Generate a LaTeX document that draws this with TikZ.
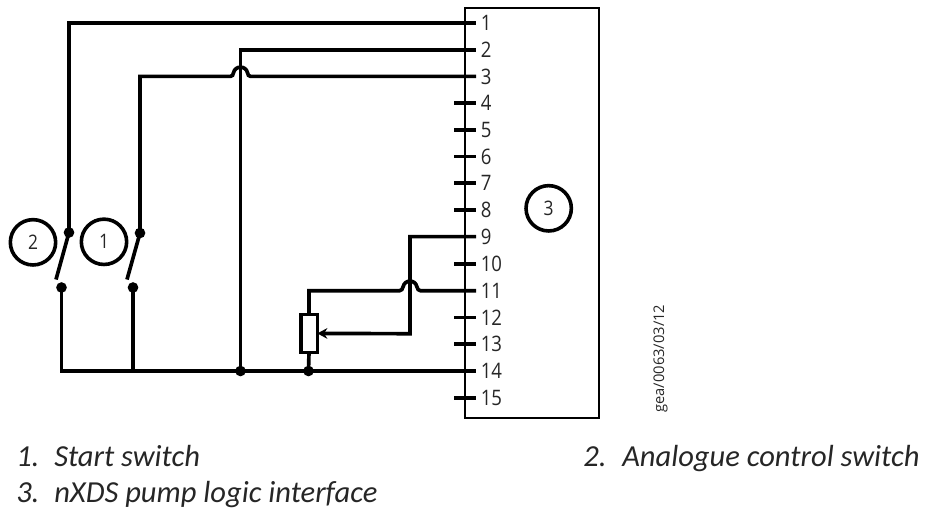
\documentclass[tikz,border=0pt]{standalone}
\usepackage{fontspec}
\setmainfont{Carlito}
\newfontfamily\pinfont[FakeStretch=0.87]{Open Sans}
\newfontfamily\reffont{Open Sans}
\usetikzlibrary{arrows.meta}
\tikzset{
  x=0.75pt,y=-0.75pt,
  wire/.style={line width=2.75pt,line cap=butt,line join=miter},
  frame/.style={line width=1.5pt},
  dotn/.style={circle,fill=black,inner sep=0pt,minimum size=8pt},
  bubble/.style={circle,draw,line width=2.7pt,minimum size=34pt,inner sep=0pt,font=\pinfont\fontsize{15}{16}\selectfont,text=black!85},
  pinlabel/.style={anchor=west,inner sep=0pt,font=\pinfont\fontsize{16}{18}\selectfont,text=black!85},
  caption/.style={anchor=base west,inner sep=0pt,font=\fontsize{22.9}{26}\selectfont\itshape,text=black!85},
  resistor/.style={draw,line width=2.75pt,fill=white,minimum width=12.5pt,minimum height=28.5pt,inner sep=0pt,outer sep=0pt},
}
\begin{document}
\begin{tikzpicture}
\useasboundingbox (0,0) rectangle (925,512);
% interface box
\node[draw,frame,minimum width=101pt,minimum height=308pt,inner sep=0pt,outer sep=0pt,anchor=north west] (box) at (464.5,7.5) {};
% pin ends and labels
\foreach \n/\y in {1/23,2/49.7,3/76.4,4/103.1,5/129.8,6/156.5,7/183.2,8/209.9,9/236.6,10/263.7,11/290.7,12/317.4,13/344.1,14/371,15/397.7}{
  \coordinate (p\n) at (476,\y);
  \coordinate (s\n) at (454,\y);
  \node[pinlabel] (l\n) at (480.5,\y) {\n};
}
\foreach \n in {4,5,6,7,8,10,12,13,15}{ \draw[wire] (s\n) -- (p\n); }
% switches
\node[dotn] (t2) at (69,232.5) {};
\node[dotn] (t1) at (140,233) {};
\node[dotn] (b2) at (61.5,287.5) {};
\node[dotn] (b1) at (133,287.5) {};
\coordinate (e2) at (56,279.5);
\coordinate (e1) at (127,279.5);
\draw[wire] (t2.center) -- (e2);
\draw[wire] (t1.center) -- (e1);
% wires
\draw[wire] (t2.center) |- (p1);
\draw[wire] (240.5,371) |- (p2);
\coordinate (j3a) at (230.5,76.4);
\coordinate (j3b) at (250.5,76.4);
\draw[wire] (t1.center) |- (j3a) .. controls (232.5,76.4) and (233,74.7) .. (233.5,72.7) .. controls (234.5,69) and (237,67.2) .. (240.5,67.2) .. controls (244,67.2) and (246.5,69) .. (247.5,72.7) .. controls (248,74.7) and (248.5,76.4) .. (j3b) -- (p3);
% bottom rail
\coordinate (rail) at (61.5,371);
\draw[wire,line cap=square] (b2.center) -- (rail) -- (p14);
\draw[wire] (b1.center) -- (133,371);
\node[dotn] (d1) at (240.5,371) {};
\node[dotn] (d2) at (308.5,371) {};
% potentiometer
\node[resistor] (r) at (309,333.4) {};
\draw[wire] (d2.center) -- (r.south);
\coordinate (j11a) at (399.5,290.7);
\coordinate (j11b) at (420.5,290.7);
\draw[wire] (r.north) |- (j11a) .. controls (401.5,290.7) and (402.5,289) .. (403,287) .. controls (404,283) and (406.5,281.2) .. (410,281.2) .. controls (413.5,281.2) and (416,283) .. (417,287) .. controls (417.5,289) and (418.5,290.7) .. (j11b) -- (p11);
\draw[wire,-{Stealth[length=7.5pt,width=8pt]}] (p9) -| (410,333.7) -- (r.east);
% bubbles
\node[bubble] (c2) at (33,242.3) {2};
\node[bubble] (c1) at (104,241.8) {1};
\node[bubble] (c3) at (548.7,208.3) {3};
% side text
\node[rotate=90,anchor=base west,inner sep=0pt,font=\reffont\fontsize{11}{12}\selectfont,text=black!85] (ref) at (664,412.7) {gea/0063/03/12};
% captions
\node[caption] (k1) at (16,466) {1.};
\node[caption] (k1t) at (54,466) {Start switch};
\node[caption] (k2) at (583,466) {2.};
\node[caption] (k2t) at (622,466) {Analogue control switch};
\node[caption] (k3) at (16,502) {3.};
\node[caption] (k3t) at (54,502) {nXDS pump logic interface};
\end{tikzpicture}
\end{document}
